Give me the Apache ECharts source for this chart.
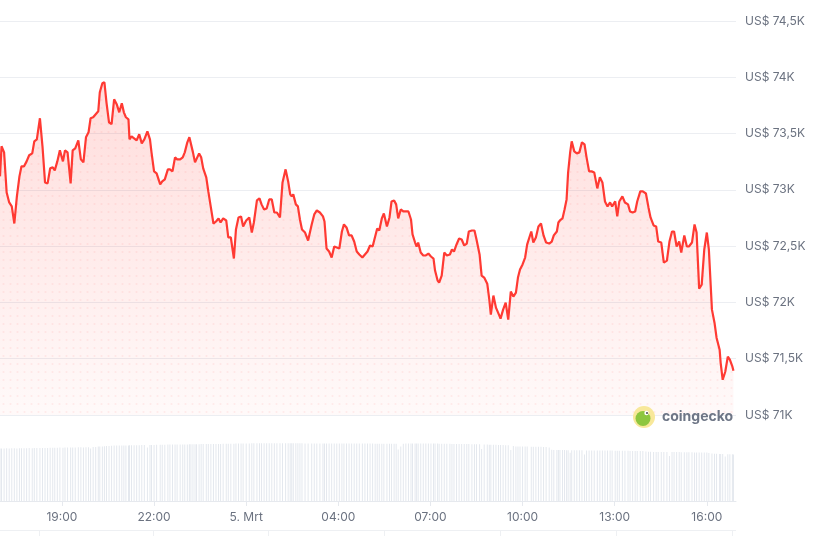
<!DOCTYPE html>
<html>
<head>
<meta charset="utf-8">
<script src="https://cdn.jsdelivr.net/npm/echarts@6/dist/echarts.min.js"></script>
<style>
html,body{margin:0;padding:0;background:#fff;}
#chart{width:819px;height:536px;}
</style>
</head>
<body>
<div id="chart"></div>
<script>
// Minutes elapsed since 16:59 on 4 March
const minutes = [0,3,8,13,18,23,28,33,38,42,
47,52,57,63,67,72,78,83,88,93,
98,103,107,112,117,123,127,132,138,142,
147,153,158,163,168,173,177,182,187,192,
195,200,204,208,213,218,223,228,233,238,
242,246,251,253,257,262,267,272,277,282,
288,293,
296,301,306,313,317,322,328,332,337,342,
346,352,357,361,366,370,373,377,381,384,
389,393,397,403,407,412,417,422,427,431,
436,442,446,451,457,461,466,471,475,481,
487,492,496,502,507,511,516,521,526,531,
536,541,547,552,558,563,567,570,573,578,
582,586,
590,596,602,609,614,619,625,631,634,638,
643,648,653,658,663,668,672,677,682,687,
692,697,702,708,713,718,723,728,733,737,
741,746,750,756,761,765,770,774,778,783,
788,793,798,803,806,811,814,817,822,827,
832,837,842,847,850,855,858,863,868,873,
879,
883,887,892,897,902,907,912,916,922,927,
931,937,941,946,952,956,959,964,969,974,
978,983,988,993,998,1003,1008,1012,1016,1021,
1026,1030,1038,1042,1047,1052,1057,1062,1067,1073,
1078,1082,1088,1091,1094,1099,1103,1107,1110,1114,
1117,1122,1127,1132,1137,1142,1146,1151,1156,1161,
1167,1172,
1177,1182,1187,1192,1196,1202,1206,1210,1216,1221,
1227,1231,1236,1241,1245,1251,1256,1262,1267,1271,
1277,1282,1286,1292,1297,1303,1308,1313,1317,1322,
1327,1331,1337,1342,1346,1352,1357,1361,1366,1371,
1376,1381,1385,1391,1396,1400,1406,1408,1412,1417,
1422,1426,1431,1433];

// BTC price in US$
const prices = [73120,73387,73333,72977,72888,72853,72701,72942,73120,73209,
73209,73253,73307,73324,73431,73449,73636,73387,73066,73057,
73191,73200,73173,73253,73351,73253,73351,73333,73057,73351,
73369,73440,73271,73244,73467,73511,73636,73645,73672,73698,
73867,73947,73956,73778,73600,73583,73805,73761,73689,73769,
73689,73645,73627,73449,73476,73458,73440,73494,73413,73449,
73520,73449,
73333,73164,73146,73049,73075,73093,73182,73182,73164,73289,
73271,73271,73289,73333,73422,73467,73476,73333,73244,73253,
73324,73289,73191,73111,72986,72844,72701,72719,72746,72710,
72746,72728,72577,72577,72390,72648,72755,72764,72675,72728,
72755,72621,72710,72906,72924,72871,72826,72835,72915,72915,
72799,72799,72755,73066,73182,73075,72960,72942,72960,72871,
72853,72737,
72648,72621,72550,72693,72782,72817,72799,72764,72719,72479,
72452,72399,72497,72488,72479,72630,72693,72666,72595,72595,
72541,72452,72426,72399,72426,72452,72506,72497,72586,72657,
72639,72746,72790,72675,72755,72897,72906,72871,72746,72826,
72808,72808,72808,72737,72604,72532,72497,72532,72443,72417,
72417,72434,72408,72390,72283,72194,72176,72239,72443,72417,
72426,
72470,72452,72515,72568,72559,72506,72523,72630,72639,72639,
72559,72426,72239,72221,72167,72025,71892,72061,71954,71900,
71856,71936,71998,71847,72096,72052,72087,72221,72292,72337,
72399,72515,72630,72532,72577,72675,72701,72595,72532,72523,
72541,72595,72630,72710,72728,72746,72826,72915,73155,73333,
73431,73342,73324,73333,73422,73405,73289,73164,73164,73155,
73013,73111,
73066,72897,72853,72888,72853,72897,72764,72897,72942,72888,
72871,72808,72799,72808,72897,72986,72986,72968,72844,72755,
72684,72675,72541,72532,72354,72372,72541,72630,72630,72497,
72541,72443,72595,72497,72497,72532,72693,72621,72123,72158,
72470,72621,72470,71936,71820,71687,71580,71464,71313,71384,
71518,71491,71429,71393];

// Volume bars (US$ billions)
const volumes = [52.5,52.6,52.6,52.7,52.6,52.7,52.7,52.6,52.8,52.7,52.8,52.8,52.9,52.8,52.9,52.9,53.0,53.0,53.1,53.0,53.2,
53.2,53.3,53.3,53.4,53.3,53.5,53.5,53.6,53.5,53.6,53.7,53.7,53.6,53.8,53.8,52.6,54.0,54.0,
54.5,54.6,54.6,54.8,55.0,55.1,
55.3,55.4,55.4,55.5,55.5,55.6,55.6,55.6,55.7,55.7,55.7,55.8,55.8,55.9,55.9,53.5,56.0,
56.1,56.1,56.2,56.2,56.3,56.3,56.4,56.4,56.4,56.5,56.5,56.5,56.6,56.6,56.6,56.7,56.7,56.7,56.8,56.8,
56.8,56.9,56.9,56.9,57.0,57.0,57.0,57.1,57.1,57.1,57.2,57.2,57.2,57.3,57.3,
57.4,57.5,57.5,57.6,57.6,57.6,57.7,57.7,57.7,57.7,57.8,57.8,57.8,57.8,57.8,57.8,57.8,57.8,57.8,57.8,
57.8,57.8,57.7,57.7,57.7,57.7,57.7,57.7,57.6,57.6,57.6,57.6,57.6,57.6,57.6,57.5,57.5,57.5,57.5,57.5,
57.5,57.5,57.5,57.4,57.4,57.4,57.4,57.4,57.4,57.4,57.4,57.4,57.4,57.4,57.4,57.3,57.3,57.3,57.3,57.3,
57.3,57.3,57.3,57.3,57.3,51.5,54.5,
57.3,57.4,57.4,57.4,57.4,57.5,57.5,57.5,57.5,57.5,57.5,57.5,57.5,57.4,57.4,57.4,57.3,57.3,57.3,57.2,57.2,
57.1,57.1,57.0,57.0,57.0,56.9,56.9,56.9,56.8,56.8,56.7,56.7,
52.0,56.5,56.4,56.3,56.3,56.2,56.2,56.1,56.0,55.9,55.8,55.7,
51.0,55.0,54.6,54.5,54.5,54.4,54.4,54.4,54.3,54.3,54.3,54.2,54.2,54.1,54.0,53.5,
51.2,51.1,51.0,51.0,51.0,50.9,50.9,50.8,50.8,48.3,50.8,
50.8,50.7,50.7,50.7,46.5,50.6,50.6,50.6,50.6,50.5,50.5,
50.5,50.5,50.4,50.4,50.4,50.3,50.3,50.3,50.2,50.2,50.2,50.1,50.1,50.1,50.0,50.0,49.9,49.5,
49.2,49.2,49.1,49.1,49.1,49.0,49.0,49.0,45.0,49.0,48.9,48.9,48.9,48.8,48.8,48.8,48.7,48.7,48.6,48.6,
48.5,48.5,48.4,48.4,48.0,
47.5,47.3,47.2,47.0,47.0,46.9,44.5,46.8,46.8,46.7,46.6];

// X tick positions (minutes since 16:59) and their labels
const tickMinutes = [121,301,481,661,841,1021,1201,1381];
const tickLabels = ['19:00','22:00','5. Mrt','04:00','07:00','10:00','13:00','16:00'];

// Price axis
const priceMin = 71000, priceMax = 74500, priceStep = 500;
const axisMaxMinutes = 1438;

const priceData = minutes.map((m, i) => [m, prices[i]]);
const volData = minutes.map((m, i) => [m, volumes[i]]);

// Dotted fill pattern
const pat = document.createElement('canvas');
pat.width = 7; pat.height = 8;
const pctx = pat.getContext('2d');
pctx.fillStyle = 'rgba(255,58,51,0.11)';
pctx.beginPath(); pctx.arc(3.5, 4, 1, 0, Math.PI * 2); pctx.fill();

const chart = echarts.init(document.getElementById('chart'), null, {renderer: 'canvas'});
const labelColor = '#6b7280';
const font = 'Inter, "Noto Sans", sans-serif';

chart.setOption({
  backgroundColor: '#ffffff',
  animation: false,
  grid: [
    {left: 0, right: 83, top: 21, height: 394, containLabel: false},
    {left: 0, right: 83, top: 441, height: 60, containLabel: false}
  ],
  xAxis: [
    {type: 'value', gridIndex: 0, min: 0, max: axisMaxMinutes,
     axisLine: {show: false}, axisTick: {show: false}, axisLabel: {show: false}, splitLine: {show: false}},
    {type: 'value', gridIndex: 1, min: 0, max: axisMaxMinutes,
     axisLine: {show: true, lineStyle: {color: '#e6e9ee', width: 1}},
     axisTick: {show: true, customValues: tickMinutes, length: 5, lineStyle: {color: '#e6e9ee'}},
     axisLabel: {show: true, customValues: tickMinutes, color: labelColor, fontSize: 12, fontFamily: font, margin: 10,
       formatter: function (v) { const k = tickMinutes.indexOf(Math.round(v)); return k >= 0 ? tickLabels[k] : ''; }},
     splitLine: {show: false}}
  ],
  yAxis: [
    {type: 'value', gridIndex: 0, position: 'right', min: priceMin, max: priceMax, interval: priceStep,
     axisLine: {show: false}, axisTick: {show: false},
     axisLabel: {color: labelColor, fontSize: 12, fontFamily: font, margin: 9,
       formatter: function (v) { return 'US$ ' + String(v / 1000).replace('.', ',') + 'K'; }},
     splitLine: {show: true, lineStyle: {color: '#eceef2', width: 1}}},
    {type: 'value', gridIndex: 1, min: 0, max: 60, show: false}
  ],
  series: [
    {type: 'line', xAxisIndex: 0, yAxisIndex: 0, data: priceData, showSymbol: false, silent: true,
     lineStyle: {width: 0}, z: 1,
     areaStyle: {color: new echarts.graphic.LinearGradient(0, 0, 0, 1, [
        {offset: 0, color: 'rgba(255,58,51,0.25)'},
        {offset: 1, color: 'rgba(255,58,51,0.04)'}])}},
    {type: 'line', xAxisIndex: 0, yAxisIndex: 0, data: priceData, showSymbol: false, silent: true,
     lineStyle: {width: 0}, z: 2,
     areaStyle: {color: {image: pat, repeat: 'repeat'}}},
    {type: 'line', xAxisIndex: 0, yAxisIndex: 0, data: priceData, showSymbol: false,
     lineStyle: {color: '#ff3a33', width: 2.2}, itemStyle: {color: '#ff3a33'}, z: 3},
    {type: 'bar', xAxisIndex: 1, yAxisIndex: 1, data: volData, barWidth: 1,
     itemStyle: {color: '#e4e8ee'}, silent: true}
  ],
  graphic: [
    {type: 'circle', shape: {cx: 644, cy: 417, r: 11}, style: {fill: '#f8e89a'}, z: 100},
    {type: 'circle', shape: {cx: 643, cy: 418.5, r: 7.5}, style: {fill: '#8dc63f'}, z: 101},
    {type: 'circle', shape: {cx: 646.5, cy: 413, r: 2.2}, style: {fill: '#ffffff'}, z: 102},
    {type: 'circle', shape: {cx: 647, cy: 413, r: 1}, style: {fill: '#4a4a4a'}, z: 103},
    {type: 'text', x: 662, y: 417, style: {text: 'coingecko', fill: '#6e7686', font: 'bold 14px ' + font, verticalAlign: 'middle'}, z: 100},
    {type: 'line', shape: {x1: 0, y1: 530.5, x2: 736, y2: 530.5}, style: {stroke: '#eef0f3', lineWidth: 1}},
    {type: 'line', shape: {x1: 39.5, y1: 531, x2: 39.5, y2: 536}, style: {stroke: '#eef0f3', lineWidth: 1}},
    {type: 'line', shape: {x1: 153.5, y1: 531, x2: 153.5, y2: 536}, style: {stroke: '#eef0f3', lineWidth: 1}},
    {type: 'line', shape: {x1: 268.5, y1: 531, x2: 268.5, y2: 536}, style: {stroke: '#eef0f3', lineWidth: 1}},
    {type: 'line', shape: {x1: 384.5, y1: 531, x2: 384.5, y2: 536}, style: {stroke: '#eef0f3', lineWidth: 1}},
    {type: 'line', shape: {x1: 500.5, y1: 531, x2: 500.5, y2: 536}, style: {stroke: '#eef0f3', lineWidth: 1}},
    {type: 'line', shape: {x1: 616.5, y1: 531, x2: 616.5, y2: 536}, style: {stroke: '#eef0f3', lineWidth: 1}},
    {type: 'line', shape: {x1: 732.5, y1: 531, x2: 732.5, y2: 536}, style: {stroke: '#eef0f3', lineWidth: 1}}
  ]
});
</script>
</body>
</html>
